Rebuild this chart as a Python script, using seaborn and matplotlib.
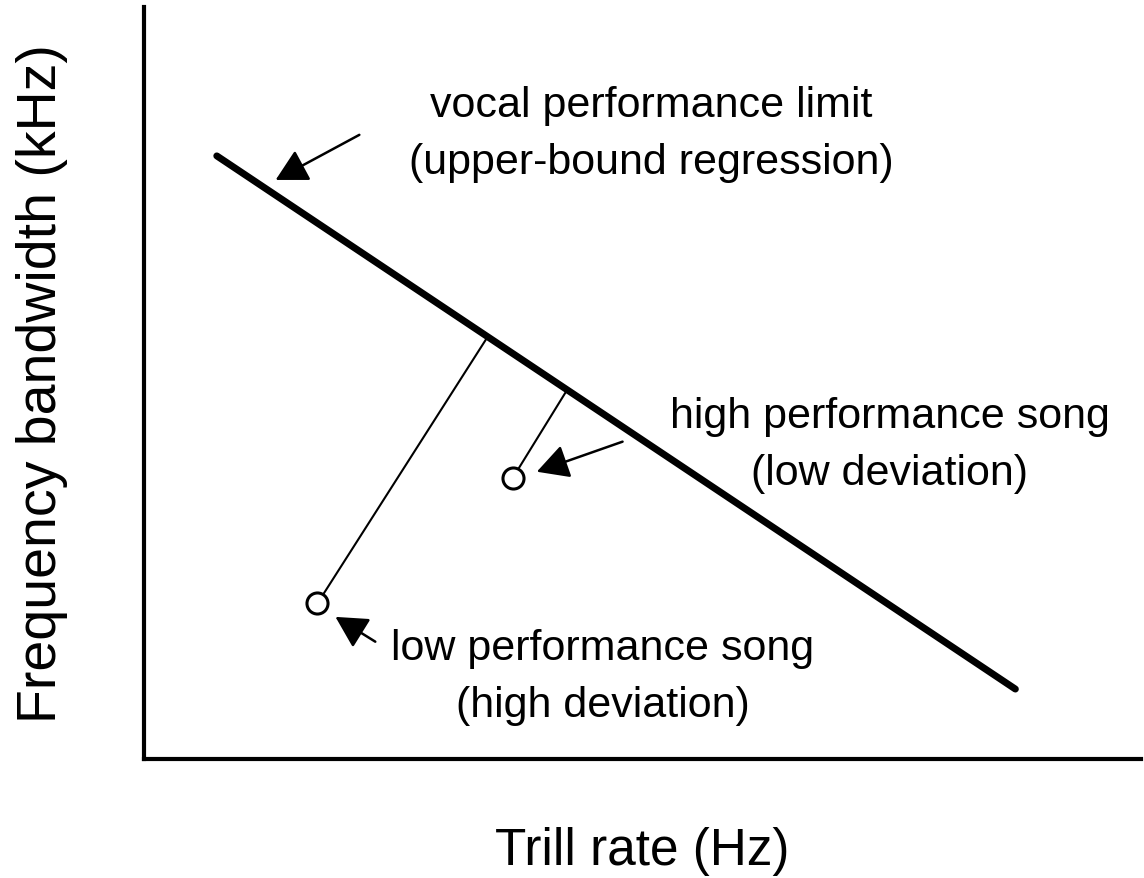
import matplotlib
matplotlib.use("Agg")
from matplotlib import pyplot as plt
import pandas as pd
import seaborn as sns

# upper-bound regression line (trill rate vs bandwidth, arbitrary units)
limite_x = [0.73, 8.74]
limite_y = [8.02, 0.93]

# the two example songs
cantos = ['low', 'high']
cantos_x = [1.74, 3.70]
cantos_y = [2.07, 3.74]

# foot of the deviation segment on the regression line
pe_x = [3.44, 4.24]
pe_y = [5.60, 4.90]

# annotation texts
rotulos = ['vocal performance limit\n(upper-bound regression)',
           'high performance song\n(low deviation)',
           'low performance song\n(high deviation)']
rotulos_x = [5.09, 7.48, 4.60]
rotulos_y = [8.32, 4.18, 1.10]
setas_ponta = [(1.32, 7.70), (3.94, 3.82), (1.92, 1.89)]
setas_cauda = [(2.16, 8.30), (4.80, 4.22), (2.32, 1.56)]

sns.set_style('white')
plt.rcParams['font.family'] = ['Liberation Sans', 'DejaVu Sans']
plt.rcParams['text.color'] = 'black'
plt.rcParams['axes.labelcolor'] = 'black'

fig = plt.figure(figsize=(11.44, 8.79), dpi=100)
ax = fig.add_axes([144 / 1144, 119 / 879, 997 / 1144, 752 / 879])

limite = pd.DataFrame({'x': limite_x, 'y': limite_y})
sns.lineplot(x='x', y='y', data=limite, color='black', linewidth=5, ax=ax)

for cx, cy, px, py in zip(cantos_x, cantos_y, pe_x, pe_y):
    ax.plot([cx, px], [cy, py], color='black', linewidth=1.5, zorder=2)

pontos = pd.DataFrame({'x': cantos_x, 'y': cantos_y, 'canto': cantos})
sns.scatterplot(x='x', y='y', data=pontos, s=230, facecolor='white',
                edgecolor='black', linewidth=2.2, zorder=3, ax=ax)

for texto, tx, ty in zip(rotulos, rotulos_x, rotulos_y):
    ax.text(tx, ty, texto, ha='center', va='center', fontsize=31,
            linespacing=1.55, color='black')

for ponta, cauda in zip(setas_ponta, setas_cauda):
    ax.annotate('', xy=ponta, xytext=cauda,
                arrowprops=dict(arrowstyle='-|>,head_length=0.65,head_width=0.35',
                                mutation_scale=30, color='black', linewidth=1.8,
                                shrinkA=0, shrinkB=0))

ax.set_xlim(0, 10)
ax.set_ylim(0, 10)
ax.set_xticks([])
ax.set_yticks([])
sns.despine(ax=ax)
for lado in ['left', 'bottom']:
    ax.spines[lado].set_linewidth(3)
    ax.spines[lado].set_color('black')

ax.set_xlabel('Trill rate (Hz)', fontsize=37, labelpad=48)
ax.set_ylabel('Frequency bandwidth (kHz)', fontsize=40, labelpad=55)

fig.savefig('out.png', dpi=100)
